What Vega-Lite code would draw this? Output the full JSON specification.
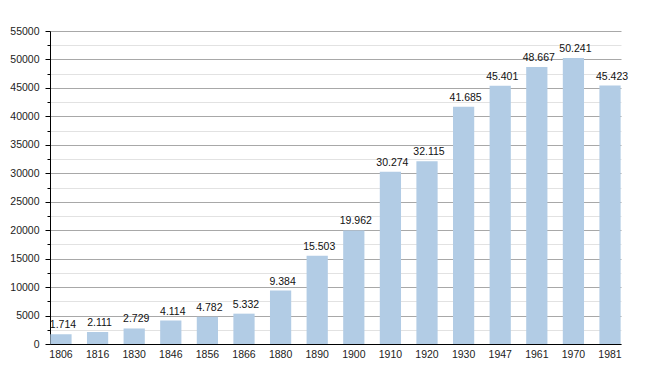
{
  "$schema": "https://vega.github.io/schema/vega-lite/v6.json",
  "width": 571,
  "height": 313,
  "autosize": {"type": "none"},
  "padding": {"left": 50, "top": 31, "right": 29, "bottom": 29},
  "background": "white",
  "config": {
    "view": {"stroke": null},
    "font": "Liberation Sans",
    "locale": {"number": {"decimal": ",", "thousands": ".", "grouping": [3], "currency": ["", ""]}}
  },
  "data": {
    "values": [
      {"year": "1806", "population": 1714},
      {"year": "1816", "population": 2111},
      {"year": "1830", "population": 2729},
      {"year": "1846", "population": 4114},
      {"year": "1856", "population": 4782},
      {"year": "1866", "population": 5332},
      {"year": "1880", "population": 9384},
      {"year": "1890", "population": 15503},
      {"year": "1900", "population": 19962},
      {"year": "1910", "population": 30274},
      {"year": "1920", "population": 32115},
      {"year": "1930", "population": 41685},
      {"year": "1947", "population": 45401},
      {"year": "1961", "population": 48667},
      {"year": "1970", "population": 50241},
      {"year": "1981", "population": 45423}
    ]
  },
  "encoding": {
    "x": {
      "field": "year",
      "type": "ordinal",
      "sort": null,
      "scale": {"paddingInner": 0.42, "paddingOuter": 0.01},
      "axis": {
        "title": null,
        "zindex": 0,
        "labelAngle": 0,
        "ticks": false,
        "labelPadding": 5,
        "labelFontSize": 10.5,
        "labelColor": "#222",
        "domainColor": "#000",
        "domainWidth": 1
      }
    },
    "y": {
      "field": "population",
      "type": "quantitative",
      "scale": {"domain": [0, 55000], "nice": false},
      "axis": {
        "title": null,
        "zindex": 0,
        "values": [0, 2500, 5000, 7500, 10000, 12500, 15000, 17500, 20000, 22500, 25000, 27500, 30000, 32500, 35000, 37500, 40000, 42500, 45000, 47500, 50000, 52500, 55000],
        "format": "d",
        "labelExpr": "datum.value % 5000 === 0 ? datum.label : ''",
        "labelFontSize": 10.5,
        "labelColor": "#222",
        "labelPadding": 6,
        "tickSize": {"condition": {"test": "datum.value % 5000 === 0", "value": 5}, "value": 3},
        "tickColor": "#000",
        "domainColor": "#000",
        "grid": true,
        "gridColor": {"condition": {"test": "datum.value % 5000 === 0", "value": "#a8a8a8"}, "value": "#e2e2e2"},
        "gridWidth": 1
      }
    }
  },
  "layer": [
    {"mark": {"type": "bar", "color": "#b2cce5"}},
    {
      "mark": {"type": "text", "baseline": "bottom", "dy": -4, "dx": 2, "fontSize": 10.5, "color": "#111"},
      "encoding": {"text": {"field": "population", "type": "quantitative", "format": ","}}
    }
  ]
}
